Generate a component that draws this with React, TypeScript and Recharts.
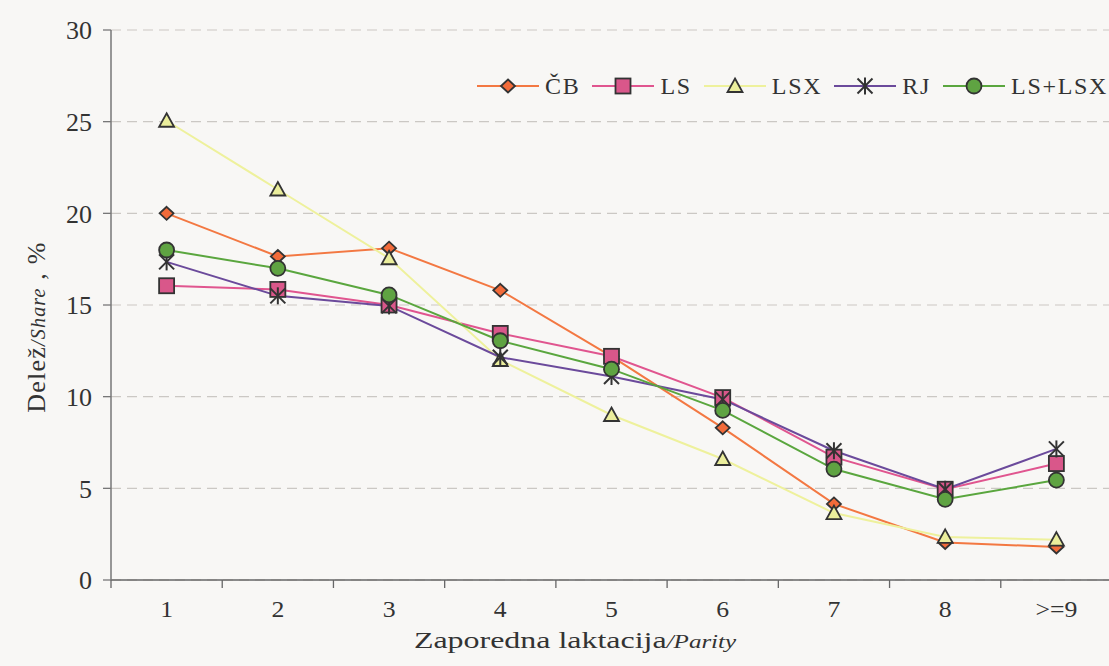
import React from 'react';
import { LineChart, Line, XAxis, YAxis, CartesianGrid, Legend } from 'recharts';

const categories = ['1', '2', '3', '4', '5', '6', '7', '8', '>=9'];
const cbValues = [20.0, 17.65, 18.1, 15.8, 12.2, 8.3, 4.15, 2.05, 1.8];
const lsValues = [16.05, 15.85, 15.0, 13.45, 12.2, 9.95, 6.7, 4.95, 6.35];
const lsxValues = [25.05, 21.3, 17.55, 12.0, 9.0, 6.6, 3.65, 2.35, 2.2];
const rjValues = [17.35, 15.5, 14.95, 12.15, 11.1, 9.85, 7.05, 4.95, 7.15];
const lsLsxValues = [18.0, 17.0, 15.55, 13.05, 11.5, 9.25, 6.05, 4.4, 5.45];
const yTicks = [0, 5, 10, 15, 20, 25, 30];

const FONT = "'Liberation Serif', 'Times New Roman', serif";
const TEXT = '#333333';

type Shape = 'diamond' | 'square' | 'triangle' | 'star' | 'circle';

const series: { key: string; name: string; color: string; fill: string; shape: Shape }[] = [
  { key: 'cb', name: 'ČB', color: '#f37842', fill: '#f26b3a', shape: 'diamond' },
  { key: 'ls', name: 'LS', color: '#e0558f', fill: '#d9578a', shape: 'square' },
  { key: 'lsx', name: 'LSX', color: '#eef19c', fill: '#ebee9c', shape: 'triangle' },
  { key: 'rj', name: 'RJ', color: '#6b4a9b', fill: '#6b4a9b', shape: 'star' },
  { key: 'lslsx', name: 'LS+LSX', color: '#5aa63e', fill: '#5fa342', shape: 'circle' },
];

const data = categories.map((c, i) => ({
  x: i + 1,
  cat: c,
  cb: cbValues[i],
  ls: lsValues[i],
  lsx: lsxValues[i],
  rj: rjValues[i],
  lslsx: lsLsxValues[i],
}));

const xTicks: number[] = [0.5];
categories.forEach((_, i) => {
  xTicks.push(i + 1);
  xTicks.push(i + 1.5);
});

const MS = '#333333';

function renderMarker(shape: Shape, cx: number, cy: number, fill: string) {
  switch (shape) {
    case 'diamond':
      return (
        <polygon
          points={`${cx},${cy - 6.5} ${cx + 7},${cy} ${cx},${cy + 6.5} ${cx - 7},${cy}`}
          fill={fill}
          stroke={MS}
          strokeWidth={1.8}
        />
      );
    case 'square':
      return <rect x={cx - 7.5} y={cy - 7.5} width={15} height={15} fill={fill} stroke={MS} strokeWidth={1.8} />;
    case 'triangle':
      return (
        <polygon
          points={`${cx},${cy - 7.5} ${cx + 7.5},${cy + 6} ${cx - 7.5},${cy + 6}`}
          fill={fill}
          stroke={MS}
          strokeWidth={1.8}
        />
      );
    case 'star':
      return (
        <g stroke={MS} strokeWidth={2}>
          <line x1={cx} y1={cy - 8.5} x2={cx} y2={cy + 8.5} />
          <line x1={cx - 7.5} y1={cy - 7.5} x2={cx + 7.5} y2={cy + 7.5} />
          <line x1={cx + 7.5} y1={cy - 7.5} x2={cx - 7.5} y2={cy + 7.5} />
        </g>
      );
    case 'circle':
    default:
      return <circle cx={cx} cy={cy} r={7.5} fill={fill} stroke={MS} strokeWidth={1.8} />;
  }
}

const makeDot = (shape: Shape, fill: string) => (props: any) => {
  const { cx, cy, index } = props;
  if (cx == null || cy == null) return <g key={`e${index}`} />;
  return <g key={`d${index}`}>{renderMarker(shape, cx, cy, fill)}</g>;
};

const XTick = (props: any) => {
  const { x, y, payload } = props;
  const v = payload.value as number;
  if (Number.isInteger(v)) {
    return (
      <text
        transform={`translate(${x},${y + 37}) scale(1.12,1)`}
        textAnchor="middle"
        fontSize={23}
        fill={TEXT}
        fontFamily={FONT}
      >
        {categories[v - 1]}
      </text>
    );
  }
  return <line x1={x} y1={y} x2={x} y2={y + 8} stroke="#666" strokeWidth={1.3} />;
};

const YAxisTitle = () => (
  <text
    transform="translate(45,327) rotate(-90)"
    textAnchor="middle"
    fill={TEXT}
    fontFamily={FONT}
    fontSize={26}
    letterSpacing={1.2}
  >
    <tspan>Delež</tspan>
    <tspan fontStyle="italic" fontSize={20}>/Share</tspan>
    <tspan> , %</tspan>
  </text>
);

const XAxisTitle = () => (
  <text
    transform="translate(575,648) scale(1.39,1)"
    textAnchor="middle"
    fill={TEXT}
    fontFamily={FONT}
    fontSize={23}
  >
    <tspan>Zaporedna laktacija</tspan>
    <tspan fontStyle="italic" fontSize={18}>/Parity</tspan>
  </text>
);

const renderLegend = () => (
  <div style={{ display: 'flex', alignItems: 'center', fontFamily: FONT, fontSize: 24, color: TEXT }}>
    {series.map((s) => (
      <div key={s.key} style={{ display: 'flex', alignItems: 'center', marginRight: 12 }}>
        <svg width={62} height={22} style={{ display: 'block' }}>
          <line x1={0} y1={11} x2={62} y2={11} stroke={s.color} strokeWidth={2} />
          {renderMarker(s.shape, 31, 11, s.fill)}
        </svg>
        <span style={{ marginLeft: 6, letterSpacing: 1.7, lineHeight: '22px' }}>{s.name}</span>
      </div>
    ))}
  </div>
);

export default function App() {
  return (
    <div
      style={{
        position: 'absolute',
        left: 0,
        top: 0,
        width: 1109,
        height: 666,
        background: '#f8f7f5',
        overflow: 'hidden',
      }}
    >
      <LineChart
        width={1109}
        height={666}
        data={data}
        margin={{ top: 30, right: -3, bottom: 0, left: 0 }}
      >
        <CartesianGrid
          vertical={false}
          horizontal
          stroke="#cbc8c4"
          strokeDasharray="10 6"
          strokeWidth={1.2}
        />
        <XAxis
          dataKey="x"
          type="number"
          domain={[0.5, 9.5]}
          ticks={xTicks}
          interval={0}
          tickLine={false}
          tickSize={0}
          tickMargin={0}
          tick={<XTick />}
          axisLine={{ stroke: '#666', strokeWidth: 1.5 }}
          height={86}
          allowDecimals
        />
        <YAxis
          type="number"
          domain={[0, 30]}
          ticks={yTicks}
          interval={0}
          width={111}
          tickSize={8}
          tickMargin={11}
          tickLine={{ stroke: '#777', strokeWidth: 1.3 }}
          axisLine={{ stroke: '#777', strokeWidth: 1.5 }}
          tick={{ fontSize: 26, fill: TEXT, fontFamily: FONT }}
        />
        <Legend
          layout="horizontal"
          verticalAlign="middle"
          align="center"
          content={renderLegend}
          wrapperStyle={{ position: 'absolute', top: 75, left: 477, width: 640 }}
        />
        {series.map((s) => (
          <Line
            key={s.key}
            type="linear"
            dataKey={s.key}
            name={s.name}
            stroke={s.color}
            strokeWidth={2}
            dot={makeDot(s.shape, s.fill)}
            activeDot={false}
            isAnimationActive={false}
          />
        ))}
        <YAxisTitle />
        <XAxisTitle />
      </LineChart>
    </div>
  );
}
